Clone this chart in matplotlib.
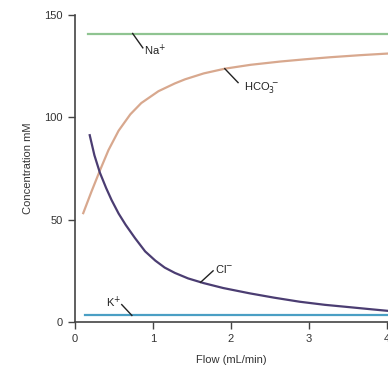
import matplotlib
matplotlib.use('Agg')
import matplotlib.pyplot as plt

plt.rcParams['font.family'] = ['Liberation Sans', 'DejaVu Sans']

# values
na_flow = [0.17, 4.05]
na_conc = [141, 141]
k_flow = [0.13, 4.05]
k_conc = [3.2, 3.2]
hco3_flow = [0.107, 0.21, 0.32, 0.43, 0.56, 0.71, 0.85, 1.07, 1.28, 1.41,
             1.65, 1.92, 2.25, 2.63, 2.95, 3.27, 3.65, 4.05]
hco3_conc = [53.2, 63.5, 74, 84, 93.5, 101.5, 107, 112.8, 116.6, 118.6,
             121.5, 123.8, 125.7, 127.3, 128.4, 129.4, 130.4, 131.3]
cl_flow = [0.19, 0.25, 0.32, 0.40, 0.47, 0.56, 0.65, 0.77, 0.9, 1.03, 1.15,
           1.28, 1.45, 1.65, 1.9, 2.24, 2.55, 2.88, 3.2, 3.53, 3.8, 4.05]
cl_conc = [91.3, 81.5, 73, 65.5, 59.6, 53, 47.5, 41, 34.5, 30, 26.6,
           24, 21.3, 19, 16.6, 14, 11.9, 9.9, 8.4, 7.2, 6.2, 5.3]
x_ticks = [0, 1, 2, 3, 4]
y_ticks = [0, 50, 100, 150]

fig = plt.figure(figsize=(3.88, 3.68), dpi=100)
ax = fig.add_axes([0.193, 0.125, 0.807, 0.834])

ax.plot(na_flow, na_conc, color='#8fc491', lw=1.6)
ax.plot(hco3_flow, hco3_conc, color='#d8a88e', lw=1.6, solid_joinstyle='round')
ax.plot(cl_flow, cl_conc, color='#4b3d72', lw=1.6, solid_joinstyle='round')
ax.plot(k_flow, k_conc, color='#4a9fc4', lw=1.6)

ax.set_xlim(0, 4.01)
ax.set_ylim(0, 150)
ax.set_xticks(x_ticks)
ax.set_yticks(y_ticks)
for s in ['top', 'right']:
    ax.spines[s].set_visible(False)
for s in ['left', 'bottom']:
    ax.spines[s].set_color('#444444')
    ax.spines[s].set_linewidth(1.2)
ax.tick_params(colors='#444444', labelsize=8, length=5, width=1, labelcolor='#333333')
ax.set_xlabel('Flow (mL/min)', fontsize=8, color='#333333', labelpad=8)
ax.set_ylabel('Concentration mM', fontsize=8, color='#333333', labelpad=8)

# leader lines + labels
lines = [((0.74, 141), (0.87, 134), 'Na$^{+}$', (0.88, 133)),
         ((1.92, 123.8), (2.09, 117), 'HCO$_3^{\\,-}$', (2.16, 114.5)),
         ((1.61, 19.4), (1.77, 25), 'Cl$^{-}$', (1.79, 26)),
         ((0.73, 3.2), (0.6, 8.5), 'K$^{+}$', (0.4, 9.5))]
for (x0, y0), (x1, y1), txt, (tx, ty) in lines:
    ax.plot([x0, x1], [y0, y1], color='#222222', lw=1)
    ax.text(tx, ty, txt, fontsize=8, color='#222222', va='center')

fig.savefig('out.png', dpi=100)
